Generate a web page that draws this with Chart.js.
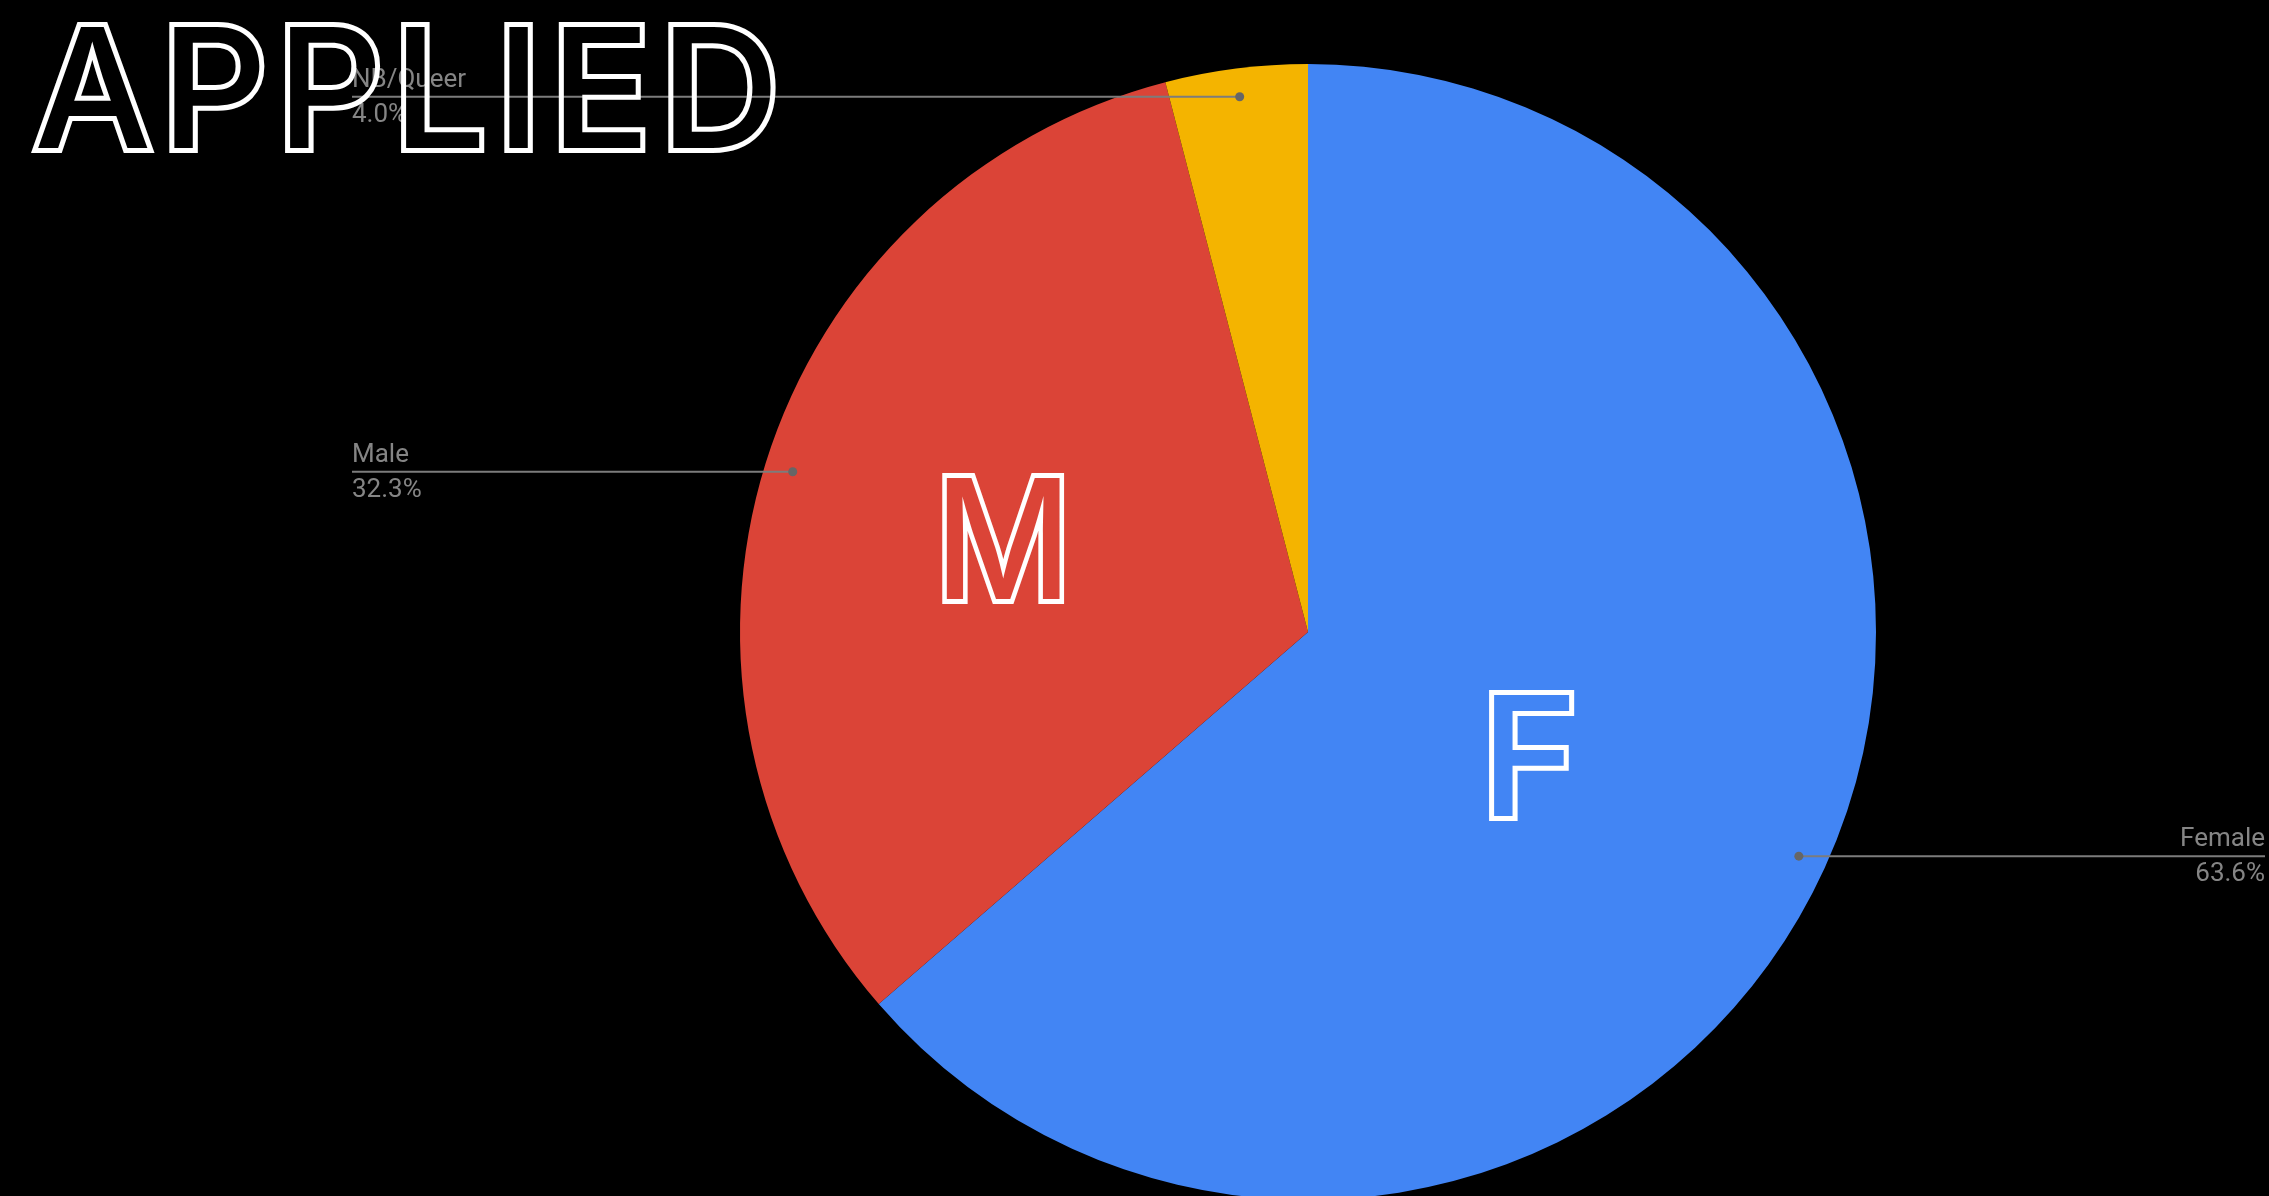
<!DOCTYPE html>
<html><head><meta charset="utf-8">
<script src="https://cdn.jsdelivr.net/npm/chart.js@4.4.1/dist/chart.umd.min.js"></script>
<style>
html,body{margin:0;padding:0;background:#000;overflow:hidden;}
#wrap{position:absolute;left:0;top:0;width:2269px;height:1200px;}
</style></head><body>
<div id="wrap"><canvas id="c"></canvas></div>
<script>
// ---- data ----
const categories = ['Female', 'Male', 'NB/Queer'];
const counts = [63, 32, 4];
const sliceColors = ['#4285F4', '#DB4437', '#F4B400'];
const titleText = 'APPLIED';
const sliceLetters = ['F', 'M', ''];

// ---- styling ----
const LABEL_FONT = '26px Roboto';
const LABEL_COLOR = '#858585';
const LEADER_COLOR = '#7c7c7c';
const DOT_COLOR = '#666666';
const OUTLINE_FONT_FAMILY = 'Inter';
const OUTLINE_WEIGHT = '500';
const RING = 5;            // outline thickness (outside the glyph)
const CAP_HEIGHT = 121;    // glyph cap height (outline adds RING on each side)
const letterOffsets = [[0.394, 0.218], [-0.537, -0.164], null]; // in units of radius, from pie centre
const letterInkWidths = [null, 113, null];

function outlineFont(size) {
  return OUTLINE_WEIGHT + ' ' + size + 'px ' + OUTLINE_FONT_FAMILY;
}
function capSize(ctx) {
  ctx.font = outlineFont(100);
  const capRatio = ctx.measureText('H').actualBoundingBoxAscent / 100;
  return CAP_HEIGHT / capRatio;
}
// draw text as outline ring only (no internal overlap contours), via offscreen canvas
function outlined(mainCtx, w, h, draw) {
  const off = document.createElement('canvas');
  off.width = w; off.height = h;
  const o = off.getContext('2d');
  o.lineWidth = RING * 2;
  o.lineJoin = 'miter';
  o.miterLimit = 2;
  o.strokeStyle = '#ffffff';
  o.fillStyle = '#000';
  draw(o, 'stroke');
  o.globalCompositeOperation = 'destination-out';
  draw(o, 'fill');
  mainCtx.drawImage(off, 0, 0);
}

const calloutPlugin = {
  id: 'callouts',
  afterDatasetsDraw(chart) {
    const ctx = chart.ctx;
    const meta = chart.getDatasetMeta(0);
    const total = counts.reduce((a, b) => a + b, 0);
    const size = capSize(ctx);
    // slice letters
    outlined(ctx, chart.width, chart.height, (o, mode) => {
      meta.data.forEach((arc, i) => {
        if (!sliceLetters[i] || !letterOffsets[i]) return;
        const p = arc.getProps(['x', 'y', 'outerRadius'], true);
        const r = p.outerRadius;
        const cx = p.x + letterOffsets[i][0] * r;
        const cy = p.y + letterOffsets[i][1] * r;
        o.save();
        o.font = outlineFont(size);
        const m = o.measureText(sliceLetters[i]);
        const w = m.actualBoundingBoxLeft + m.actualBoundingBoxRight;
        const sx = letterInkWidths[i] ? letterInkWidths[i] / w : 1;
        o.translate(cx, cy + CAP_HEIGHT / 2);
        o.scale(sx, 1);
        o.textBaseline = 'alphabetic';
        o.textAlign = 'left';
        if (mode === 'stroke') o.strokeText(sliceLetters[i], -w / 2 + m.actualBoundingBoxLeft, 0);
        else o.fillText(sliceLetters[i], -w / 2 + m.actualBoundingBoxLeft, 0);
        o.restore();
      });
    });
    // leaders + labels
    meta.data.forEach((arc, i) => {
      const p = arc.getProps(['x', 'y', 'startAngle', 'endAngle', 'outerRadius'], true);
      const mid = (p.startAngle + p.endAngle) / 2;
      const r = p.outerRadius;
      const px = p.x + Math.cos(mid) * r * 0.95;
      const py = p.y + Math.sin(mid) * r * 0.95;
      const right = Math.cos(mid) > 0;
      const lx = right ? chart.width - 4 : 352;
      ctx.save();
      ctx.strokeStyle = LEADER_COLOR;
      ctx.lineWidth = 2;
      ctx.beginPath();
      ctx.moveTo(lx, py);
      ctx.lineTo(px, py);
      ctx.stroke();
      ctx.fillStyle = DOT_COLOR;
      ctx.beginPath();
      ctx.arc(px, py, 4.5, 0, Math.PI * 2);
      ctx.fill();
      ctx.font = LABEL_FONT;
      ctx.fillStyle = LABEL_COLOR;
      ctx.textAlign = right ? 'right' : 'left';
      ctx.textBaseline = 'alphabetic';
      ctx.fillText(categories[i], lx, py - 10);
      ctx.fillText((counts[i] / total * 100).toFixed(1) + '%', lx, py + 25);
      ctx.restore();
    });
  },
  afterDraw(chart) {
    const ctx = chart.ctx;
    const size = capSize(ctx);
    outlined(ctx, chart.width, chart.height, (o, mode) => {
      o.save();
      o.font = outlineFont(size);
      const chars = titleText.split('');
      const adv = chars.map(c => o.measureText(c).width);
      const first = o.measureText(chars[0]);
      const last = o.measureText(chars[chars.length - 1]);
      const targetLeft = 33 + RING, targetRight = 776 - RING;
      const sumAdv = adv.slice(0, -1).reduce((a, b) => a + b, 0);
      const spacing = ((targetRight - targetLeft) - sumAdv - first.actualBoundingBoxLeft - last.actualBoundingBoxRight) / (chars.length - 1);
      let x = targetLeft + first.actualBoundingBoxLeft;
      const baseline = 153 - RING;
      o.textAlign = 'left';
      o.textBaseline = 'alphabetic';
      chars.forEach((c, i) => {
        if (mode === 'stroke') o.strokeText(c, x, baseline);
        else o.fillText(c, x, baseline);
        x += adv[i] + spacing;
      });
      o.restore();
    });
  }
};

new Chart(document.getElementById('c'), {
  type: 'pie',
  data: {
    labels: categories,
    datasets: [{
      data: counts,
      backgroundColor: sliceColors,
      borderWidth: 0,
      hoverOffset: 0,
      offset: 0
    }]
  },
  options: {
    responsive: true,
    maintainAspectRatio: false,
    devicePixelRatio: 1,
    animation: false,
    events: [],
    layout: { padding: { top: 64, bottom: 0, left: 740, right: 393 } },
    plugins: { legend: { display: false }, tooltip: { enabled: false } }
  },
  plugins: [calloutPlugin]
});
</script>
</body></html>
